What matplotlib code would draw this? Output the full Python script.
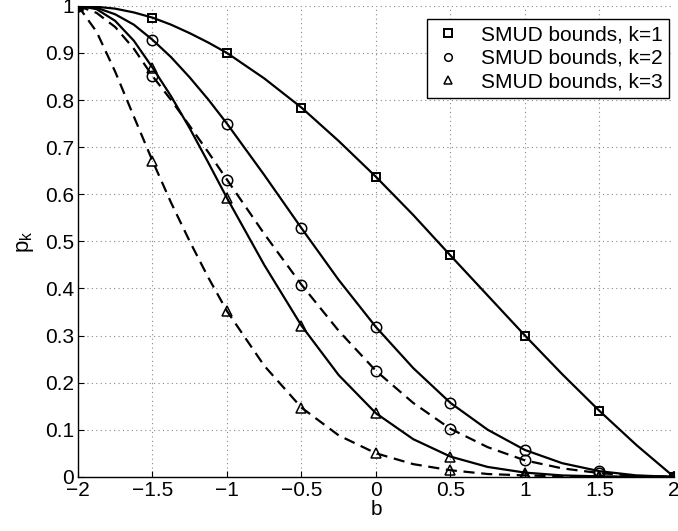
import matplotlib
matplotlib.use("Agg")
import matplotlib.pyplot as plt

plt.rcParams['font.family'] = ['Liberation Sans', 'DejaVu Sans']
plt.rcParams['axes.unicode_minus'] = True

# courbes, valeurs (pas plus fin au debut)
b = [-2, -1.875, -1.75, -1.625, -1.5, -1.375, -1.25, -1.125, -1, -0.75, -0.5, -0.25,
     0, 0.25, 0.5, 0.75, 1, 1.25, 1.5, 1.75, 2]
k1_solid = [1, 0.998, 0.994, 0.986, 0.975, 0.960, 0.942, 0.922, 0.90, 0.846, 0.784, 0.713,
            0.637, 0.556, 0.47, 0.385, 0.30, 0.218, 0.14, 0.067, 0]
k2_solid = [1, 0.996, 0.982, 0.960, 0.928, 0.891, 0.848, 0.801, 0.75, 0.641, 0.528, 0.418,
            0.318, 0.231, 0.157, 0.100, 0.057, 0.029, 0.012, 0.003, 0]
k2_dash = [1, 0.985, 0.955, 0.909, 0.851, 0.800, 0.745, 0.689, 0.631, 0.516, 0.408, 0.310,
           0.225, 0.157, 0.102, 0.063, 0.035, 0.018, 0.008, 0.002, 0]
k3_solid = [1, 0.993, 0.968, 0.926, 0.869, 0.808, 0.740, 0.667, 0.592, 0.450, 0.321, 0.216,
            0.135, 0.080, 0.043, 0.021, 0.009, 0.003, 0.001, 0, 0]
k3_dash = [1, 0.945, 0.860, 0.765, 0.671, 0.582, 0.500, 0.423, 0.352, 0.236, 0.147, 0.088,
           0.050, 0.027, 0.014, 0.006, 0.003, 0.001, 0, 0, 0]

# marqueurs "SMUD bounds" (pas de 0.5)
bm = [-2, -1.5, -1, -0.5, 0, 0.5, 1, 1.5, 2]
smud_k1 = [1, 0.975, 0.90, 0.784, 0.637, 0.47, 0.30, 0.14, 0]
smud_k2 = [1, 0.928, 0.75, 0.528, 0.318, 0.157, 0.057, 0.012, 0,
           1, 0.851, 0.631, 0.408, 0.225, 0.102, 0.035, 0.008, 0]
smud_k3 = [1, 0.869, 0.592, 0.321, 0.135, 0.043, 0.009, 0.001, 0,
           1, 0.671, 0.352, 0.147, 0.050, 0.014, 0.003, 0, 0]

fig = plt.figure(figsize=(6.78, 5.31), dpi=100)
ax = fig.add_axes([0.115, 0.102, 0.879, 0.887])

ax.plot(b, k1_solid, 'k-', lw=1.6)
ax.plot(b, k2_solid, 'k-', lw=1.6)
ax.plot(b, k2_dash, 'k--', lw=1.6, dashes=(5, 3))
ax.plot(b, k3_solid, 'k-', lw=1.6)
ax.plot(b, k3_dash, 'k--', lw=1.6, dashes=(5, 3))

ax.plot(bm, smud_k1, 's', mfc='none', mec='k', ms=6, mew=1.4, label='SMUD bounds, k=1')
ax.plot(bm * 2, smud_k2, 'o', mfc='none', mec='k', ms=7.5, mew=1.1, label='SMUD bounds, k=2')
ax.plot(bm * 2, smud_k3, '^', mfc='none', mec='k', ms=7.5, mew=1.1, label='SMUD bounds, k=3')

ax.set_xlim(-2, 2)
ax.set_ylim(0, 1)
ax.set_xticks(bm)
ax.set_xticklabels(['\u22122', '\u22121.5', '\u22121', '\u22120.5', '0', '0.5', '1', '1.5', '2'])
ax.set_yticks([i / 10 for i in range(11)])
ax.set_yticklabels(['0', '0.1', '0.2', '0.3', '0.4', '0.5', '0.6', '0.7', '0.8', '0.9', '1'])
ax.tick_params(direction='in', labelsize=15, length=4, pad=3)
ax.grid(True, linestyle=(0, (1, 3)), color='#888888', lw=0.8)
ax.spines['top'].set_visible(False)
ax.spines['right'].set_visible(False)
for s in ['left', 'bottom']:
    ax.spines[s].set_linewidth(1.0)

ax.set_xlabel('b', fontsize=15, labelpad=0)
ax.set_ylabel('$\\mathregular{p_k}$', fontsize=16, labelpad=6)

leg = ax.legend(loc='upper right', bbox_to_anchor=(0.992, 0.972), fontsize=15,
                frameon=True, fancybox=False, edgecolor='k', framealpha=1,
                handlelength=1.4, borderpad=0.3, labelspacing=0.22, handletextpad=0.9,
                borderaxespad=0)
leg.get_frame().set_linewidth(1.0)
for h in leg.legend_handles:
    h.set_markersize(5.5)

fig.savefig('out.png', dpi=100)
